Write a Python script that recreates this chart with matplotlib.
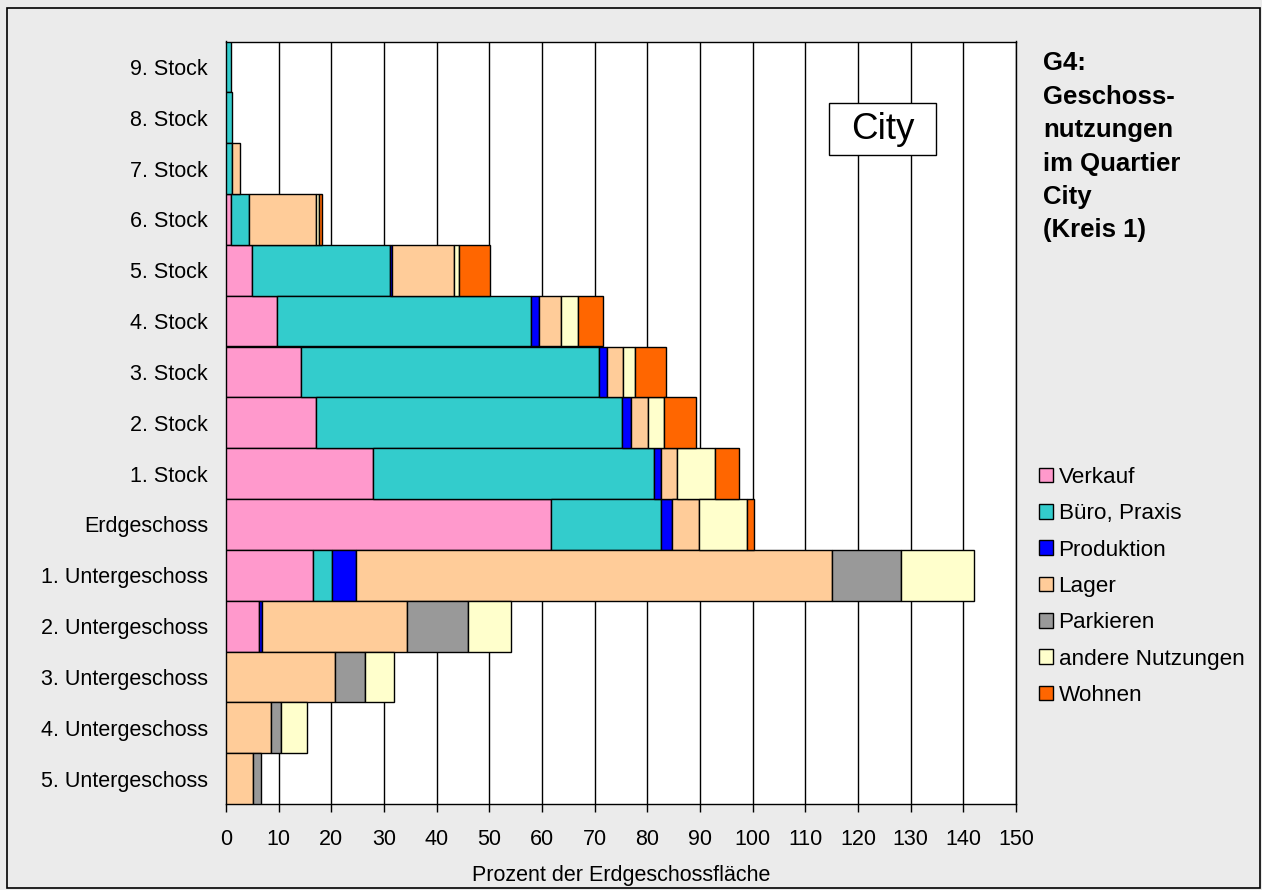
import numpy as np
import matplotlib
matplotlib.use('Agg')
import matplotlib.pyplot as plt
from matplotlib.patches import Rectangle

plt.rcParams['font.family'] = ['Liberation Sans', 'DejaVu Sans']

# floors, top to bottom
geschosse = ['9. Stock', '8. Stock', '7. Stock', '6. Stock', '5. Stock',
             '4. Stock', '3. Stock', '2. Stock', '1. Stock', 'Erdgeschoss',
             '1. Untergeschoss', '2. Untergeschoss', '3. Untergeschoss',
             '4. Untergeschoss', '5. Untergeschoss']

verkauf    = [0, 0, 0, 0.9, 5.0, 9.6, 14.3, 17.1, 28.0, 61.7, 16.6, 6.3, 0, 0, 0]
buero      = [0.9, 1.2, 1.2, 3.4, 26.2, 48.4, 56.5, 58.1, 53.3, 20.8, 3.6, 0, 0, 0, 0]
produktion = [0, 0, 0, 0, 0.3, 1.5, 1.6, 1.7, 1.2, 2.2, 4.5, 0.5, 0, 0, 0]
lager      = [0, 0, 1.5, 12.7, 11.8, 4.2, 2.9, 3.2, 3.1, 5.2, 90.4, 27.6, 20.7, 8.5, 5.2]
parkieren  = [0, 0, 0, 0, 0, 0, 0, 0, 0, 0, 13.1, 11.6, 5.6, 1.9, 1.4]
andere     = [0, 0, 0, 0.7, 0.9, 3.1, 2.3, 3.0, 7.2, 9.0, 13.8, 8.2, 5.6, 4.9, 0]
wohnen     = [0, 0, 0, 0.45, 5.9, 4.7, 5.9, 6.2, 4.6, 1.3, 0, 0, 0, 0, 0]

serien = [('Verkauf', verkauf, '#ff99cc'),
          ('Büro, Praxis', buero, '#33cccc'),
          ('Produktion', produktion, '#0000ff'),
          ('Lager', lager, '#ffcc99'),
          ('Parkieren', parkieren, '#999999'),
          ('andere Nutzungen', andere, '#ffffcc'),
          ('Wohnen', wohnen, '#ff6600')]

bg = '#ebebeb'
fig = plt.figure(figsize=(12.62, 8.90), dpi=100, facecolor=bg)
ax = fig.add_axes([226 / 1262, 1 - 804 / 890, 790 / 1262, 762.5 / 890])
ax.set_facecolor('white')

y = np.arange(len(geschosse))
links = np.zeros(len(geschosse))
handles = []
for name, werte, farbe in serien:
    werte = np.array(werte, dtype=float)
    m = werte > 0
    h = ax.barh(y[m], werte[m], left=links[m], height=1.0, color=farbe,
                edgecolor='black', linewidth=1.0, zorder=3, label=name)
    handles.append(h)
    links += werte

ax.set_xlim(0, 150)
ax.set_ylim(len(geschosse) - 0.5, -0.5)
ax.set_xticks(np.arange(0, 151, 10))
ax.set_yticks(y)
ax.set_yticklabels(geschosse)
ax.tick_params(axis='y', length=0, pad=13, labelsize=15.5)
ax.tick_params(axis='x', length=6, width=1, direction='out', pad=12, labelsize=15.5)
ax.xaxis.grid(True, color='black', linewidth=1.0, zorder=0)
ax.set_axisbelow(True)
for s in ax.spines.values():
    s.set_linewidth(1.0)
    s.set_color('black')
ax.set_xlabel('Prozent der Erdgeschossfläche', fontsize=15.5, labelpad=11)

# "City" label box
ax.add_patch(Rectangle((114.5, 0.71), 20.3, 1.02, facecolor='white',
                       edgecolor='black', linewidth=1.0, zorder=5))
ax.text(124.65, 1.23, 'City', fontsize=26.5, ha='center', va='center', zorder=6)

fig.text(1043 / 1262, 1 - 51 / 890,
         'G4:\nGeschoss-\nnutzungen\nim Quartier\nCity\n(Kreis 1)',
         fontsize=18.5, fontweight='bold', ha='left', va='top', linespacing=1.5)

fig.legend(handles=handles, loc='upper left', bbox_to_anchor=(1039 / 1262, 1 - 467 / 890),
           frameon=False, fontsize=16.2, handlelength=0.62, handleheight=0.62,
           handletextpad=0.25, labelspacing=0.68, borderpad=0, borderaxespad=0)

fig.patches.append(Rectangle((7 / 1262, 2 / 890), 1253 / 1262, 880 / 890,
                             transform=fig.transFigure, fill=False,
                             edgecolor='black', linewidth=1.2))

fig.savefig('out.png', dpi=100, facecolor=bg)
